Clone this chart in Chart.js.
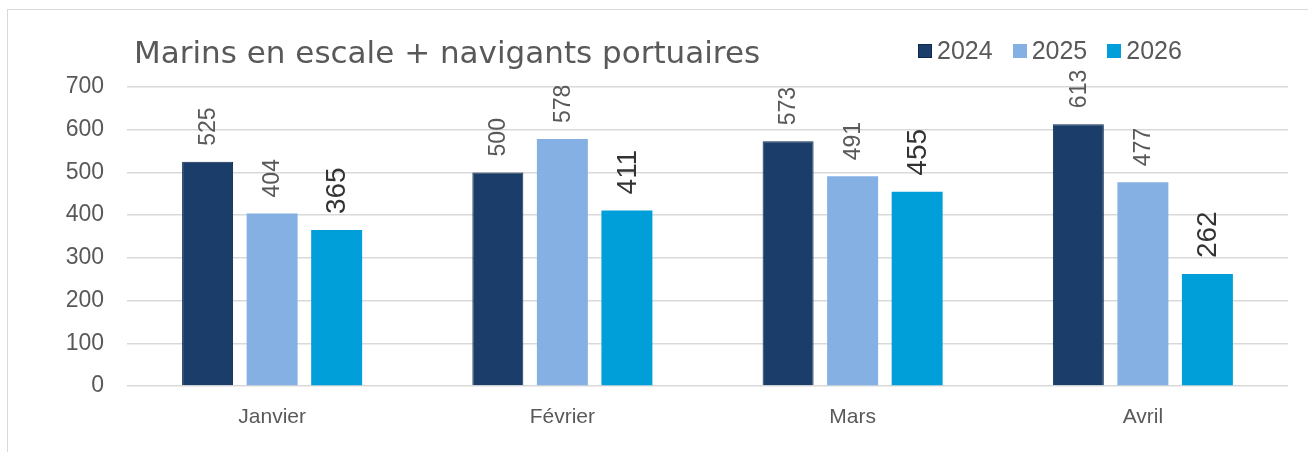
<!DOCTYPE html>
<html>
<head>
<meta charset="utf-8">
<script src="https://cdn.jsdelivr.net/npm/chart.js@4.4.1/dist/chart.umd.min.js"></script>
<style>
  html, body { margin: 0; padding: 0; background: #fff; }
  #wrap { position: relative; width: 1308px; height: 452px; overflow: hidden; }
  #frame { position: absolute; left: 7px; top: 9px; width: 1400px; height: 500px;
           border-left: 1px solid #d9d9d9; border-top: 1px solid #d9d9d9; }
  #title { position: absolute; left: 134px; top: 34px; font: 31px "DejaVu Sans", sans-serif;
           color: #595959; white-space: nowrap; }
  #legend { position: absolute; left: 918px; top: 36px; display: flex; align-items: center;
            font: 25px "Liberation Sans", Arial, sans-serif; color: #595959; white-space: nowrap; }
  .item { display: flex; align-items: center; margin-right: 20px; }
  .sw { width: 14px; height: 14px; margin-right: 5px; box-sizing: border-box; }
  canvas { position: absolute; left: 0; top: 0; }
</style>
</head>
<body>
<div id="wrap">
  <div id="frame"></div>
  <canvas id="c" width="1308" height="452"></canvas>
  <div id="title">Marins en escale + navigants portuaires</div>
  <div id="legend"></div>
</div>
<script>
const chartTitle = "Marins en escale + navigants portuaires";
const categories = ["Janvier", "Février", "Mars", "Avril"];
const seriesNames = ["2024", "2025", "2026"];
const values2024 = [525, 500, 573, 613];
const values2025 = [404, 578, 491, 477];
const values2026 = [365, 411, 455, 262];
const yTicks = [0, 100, 200, 300, 400, 500, 600, 700];

const fills = ["#1a3e69", "#84b0e4", "#009fd9"];
const borders = ["#0f2a4a", "#84b0e4", "#009fd9"];
const borderWidths = [1, 0, 0];
const labelFonts = [
  { size: 23, weight: "normal", color: "#595959" },
  { size: 23, weight: "normal", color: "#595959" },
  { size: 28, weight: "normal", color: "#333333" }
];

const legendEl = document.getElementById("legend");
seriesNames.forEach((n, i) => {
  const it = document.createElement("div");
  it.className = "item";
  const sw = document.createElement("div");
  sw.className = "sw";
  sw.style.background = fills[i];
  if (borderWidths[i]) sw.style.border = "1px solid " + borders[i];
  const t = document.createElement("span");
  t.textContent = n;
  it.appendChild(sw); it.appendChild(t);
  legendEl.appendChild(it);
});

const valueLabels = {
  id: "valueLabels",
  afterDatasetsDraw(chart) {
    const ctx = chart.ctx;
    chart.data.datasets.forEach((ds, di) => {
      const meta = chart.getDatasetMeta(di);
      const f = labelFonts[di];
      meta.data.forEach((bar, i) => {
        ctx.save();
        ctx.translate(bar.x, bar.y - 16);
        ctx.rotate(-Math.PI / 2);
        ctx.font = f.weight + " " + f.size + 'px "Liberation Sans", Arial, sans-serif';
        ctx.fillStyle = f.color;
        ctx.textAlign = "left";
        ctx.textBaseline = "middle";
        ctx.fillText(String(ds.data[i]), 0, 1);
        ctx.restore();
      });
    });
  }
};

const seriesData = [values2024, values2025, values2026];
new Chart(document.getElementById("c"), {
  type: "bar",
  data: {
    labels: categories,
    datasets: seriesNames.map((n, i) => ({
      label: n,
      data: seriesData[i],
      backgroundColor: fills[i],
      borderColor: borders[i],
      borderWidth: borderWidths[i],
      categoryPercentage: 0.667,
      barPercentage: 0.79
    }))
  },
  options: {
    responsive: false,
    animation: false,
    devicePixelRatio: 1,
    layout: { padding: { top: 87, right: 20, bottom: 0, left: 0 } },
    plugins: { legend: { display: false }, title: { display: false }, tooltip: { enabled: false } },
    scales: {
      x: {
        grid: { display: false },
        border: { display: false },
        ticks: { color: "#595959", font: { family: '"Liberation Sans", Arial, sans-serif', size: 21 }, padding: 11 },
        afterFit(s) { s.height = 66; }
      },
      y: {
        min: 0, max: 700,
        afterBuildTicks(s) { s.ticks = yTicks.map(v => ({ value: v })); },
        grid: { color: "#d9d9d9", lineWidth: 1.5, drawTicks: false },
        border: { display: false },
        ticks: { color: "#595959", font: { family: '"Liberation Sans", Arial, sans-serif', size: 23 }, padding: 23 },
        afterFit(s) { s.width = 127; }
      }
    }
  },
  plugins: [valueLabels]
});
</script>
</body>
</html>
